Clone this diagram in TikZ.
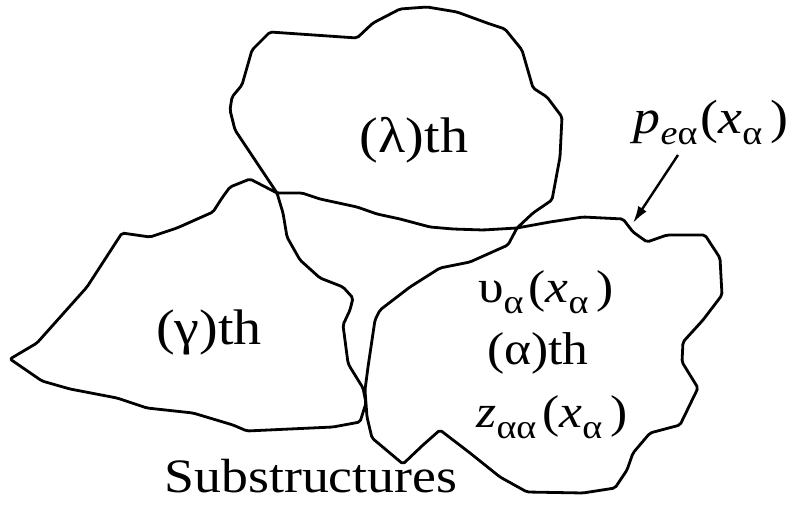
\documentclass[tikz,border=0pt]{standalone}
\usepackage{fontspec}
\setmainfont{Liberation Serif}[FakeStretch=1.12]
\usetikzlibrary{arrows.meta}
\newcommand{\mysub}[1]{\raisebox{-11pt}{\fontsize{34}{34}\selectfont #1}}
\tikzset{
  outline/.style={line width=2.8pt, line join=round, rounded corners=2pt},
  bigtext/.style={anchor=base, inner sep=0pt, font=\fontsize{50}{60}\selectfont},
  midtext/.style={anchor=base, inner sep=0pt, font=\fontsize{46}{55}\selectfont},
  pointer/.style={line width=2.4pt, -{Latex[length=17pt,width=10pt]}}
}
\begin{document}
\begin{tikzpicture}[x=1pt,y=-1pt]
\useasboundingbox (0,0) rectangle (801,510);
\draw[outline]
 (623,219) -- (583,217) -- (550,222) -- (517,228) -- (483,230) -- (453,229) -- (430,227)
 -- (400,219) -- (377,214) -- (357,207) -- (320,199) -- (302,193) -- (277,193) -- (250,179)
 -- (230,187) -- (222,198) -- (213,212) -- (177,228) -- (150,237) -- (122,233) -- (87,287)
 -- (37,343) -- (10,359) -- (42,381) -- (70,389) -- (117,398) -- (147,408) -- (193,413)
 -- (233,425) -- (247,431) -- (333,427) -- (360,422) -- (366,403) -- (363,388) -- (350,367)
 -- (348,363) -- (343,325) -- (350,310) -- (353,298) -- (343,287) -- (320,278) -- (300,260)
 -- (287,237) -- (283,213) -- (277,193) -- (273,187) -- (255,160) -- (235,130) -- (230,110)
 -- (232,97) -- (242,85) -- (252,50) -- (270,32) -- (357,38) -- (373,23) -- (400,9)
 -- (427,7) -- (457,12) -- (487,23) -- (505,29) -- (522,50) -- (533,88) -- (547,97)
 -- (562,117) -- (560,157) -- (552,200) -- (533,213) -- (517,228) -- (508,245) -- (470,262)
 -- (440,268) -- (410,287) -- (380,310) -- (375,320) -- (368,367) -- (365,390) -- (367,417)
 -- (372,438) -- (403,464) -- (423,445) -- (440,430) -- (470,453) -- (500,477) -- (527,492)
 -- (583,493) -- (615,488) -- (627,470) -- (633,453) -- (650,433) -- (680,425) -- (698,388)
 -- (682,362) -- (683,342) -- (703,320) -- (722,295) -- (720,258) -- (705,235) -- (667,235)
 -- (647,242) -- (633,232) -- cycle;
\node[bigtext] (lam) at (414,153) {(λ)th};
\node[bigtext] (gam) at (209,345) {(γ)th};
\node[midtext] (ups) at (546,303) {υ\mysub{α}\hspace{5pt}(\textit{x}\mysub{α}\hspace{8pt})};
\node[midtext] (alph) at (538,365) {(α)th};
\node[midtext] (zaa) at (552,428) {\textit{z}\mysub{αα}\hspace{6pt}(\textit{x}\mysub{α}\hspace{8pt})};
\node[midtext, font=\fontsize{48}{58}\selectfont] (pea) at (711,134) {\textit{p}\mysub{\textit{e}α}\hspace{3pt}(\textit{x}\mysub{α}\hspace{8pt})};
\node[bigtext, font=\fontsize{48}{58}\selectfont] (subs) at (311,493) {Substructures};
\coordinate (astart) at (678,155);
\coordinate (tip) at (633,223);
\draw[pointer] (astart) -- (tip);
\end{tikzpicture}
\end{document}
